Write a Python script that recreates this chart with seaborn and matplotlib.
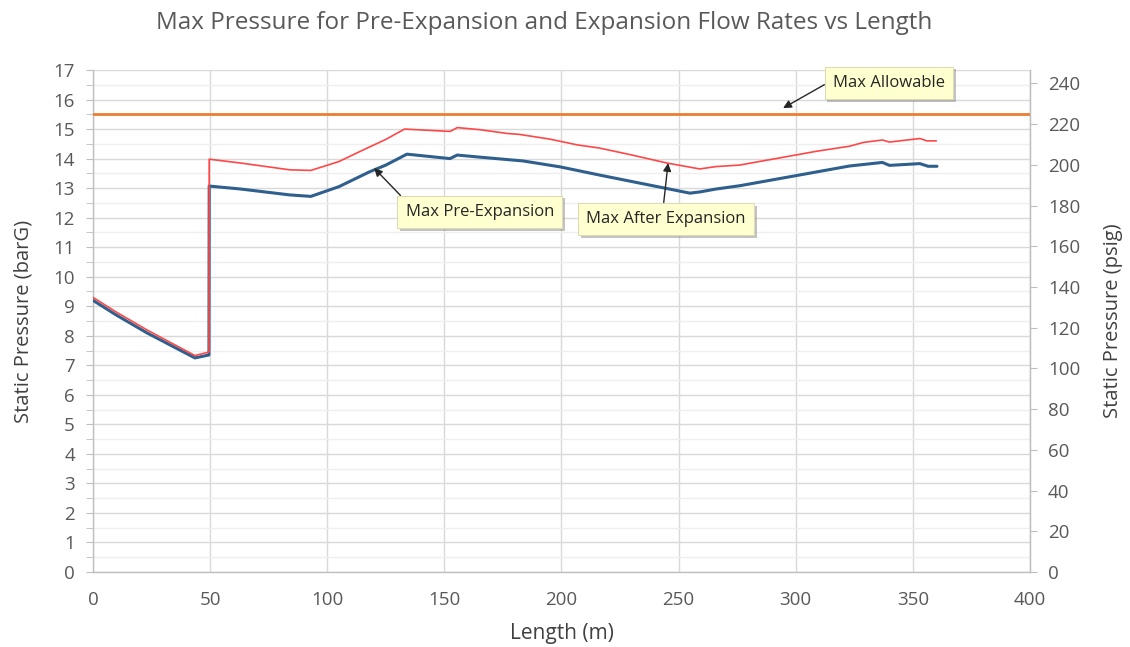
import numpy as np
import pandas as pd
import matplotlib
matplotlib.use("Agg")
import matplotlib.pyplot as plt
import matplotlib.patheffects as pe
from matplotlib.ticker import MultipleLocator
import seaborn as sns

# ---- data ----
after_x = [0, 10, 23, 43.5, 49.5, 49.6, 63, 84, 93, 105, 115, 125, 133, 150, 152.5,
           155.5, 165, 177, 182, 195, 207, 216, 229, 245, 259, 266, 276, 295, 309,
           323, 329, 337, 340, 353, 356, 360]
after_y = [9.3, 8.8, 8.2, 7.33, 7.45, 13.98, 13.85, 13.62, 13.6, 13.9, 14.28, 14.65,
           15.0, 14.93, 14.92, 15.05, 14.98, 14.85, 14.82, 14.66, 14.46, 14.36, 14.14,
           13.85, 13.65, 13.73, 13.78, 14.05, 14.25, 14.42, 14.55, 14.63, 14.56, 14.68,
           14.6, 14.6]

pre_x = [0, 10, 23, 43.5, 49.5, 49.6, 63, 84, 93, 105, 118, 125, 134, 152.4, 155.5,
         165, 183.6, 199.4, 216.4, 237.8, 254.8, 259, 266, 276, 295, 309, 323, 337,
         340, 353, 356.5, 360.3]
pre_y = [9.2, 8.7, 8.1, 7.25, 7.35, 13.07, 12.97, 12.77, 12.72, 13.05, 13.55, 13.78,
         14.15, 14.0, 14.12, 14.05, 13.92, 13.72, 13.44, 13.1, 12.83, 12.87, 12.97,
         13.08, 13.35, 13.55, 13.75, 13.87, 13.77, 13.83, 13.74, 13.74]

allow_x = [0, 400]
allow_y = [15.5, 15.5]

BAR_TO_PSI = 14.5038

df = pd.concat([
    pd.DataFrame({"Length": after_x, "P": after_y, "series": "Max After Expansion"}),
    pd.DataFrame({"Length": pre_x, "P": pre_y, "series": "Max Pre-Expansion"}),
    pd.DataFrame({"Length": allow_x, "P": allow_y, "series": "Max Allowable"}),
], ignore_index=True)

sns.set_style("white")
plt.rcParams['font.family'] = ['Open Sans', 'DejaVu Sans']
TXT = "#595959"

fig = plt.figure(figsize=(11.3, 6.47), dpi=100)
ax = fig.add_axes([0.0823, 0.1159, 0.8292, 0.7759])

palette = {"Max After Expansion": "#FF4747", "Max Pre-Expansion": "#2F5F8C",
           "Max Allowable": "#ED7D31"}
sizes = {"Max After Expansion": 1.2, "Max Pre-Expansion": 2.2, "Max Allowable": 2.0}
for name in ["Max Allowable", "Max Pre-Expansion", "Max After Expansion"]:
    sub = df[df.series == name]
    sns.lineplot(data=sub, x="Length", y="P", ax=ax, color=palette[name],
                 linewidth=sizes[name], sort=False, estimator=None, legend=False,
                 zorder=3)

ax.set_xlim(0, 400)
ax.set_ylim(0, 17)
ax.xaxis.set_major_locator(MultipleLocator(50))
ax.yaxis.set_major_locator(MultipleLocator(1))
ax.yaxis.set_minor_locator(MultipleLocator(0.5))
ax.grid(True, which='major', color='#D9D9D9', linewidth=1.0, zorder=0)
ax.grid(True, which='minor', axis='y', color='#EFEFEF', linewidth=1.0, zorder=0)
ax.set_axisbelow(True)
ax.spines['top'].set_visible(False)
for s in ['left', 'bottom', 'right']:
    ax.spines[s].set_color('#BFBFBF')
    ax.spines[s].set_linewidth(1.0)
ax.tick_params(axis='y', which='both', direction='out', length=5, color='#BFBFBF',
               labelsize=13.5, labelcolor=TXT, left=True, pad=8)
ax.tick_params(axis='x', which='both', length=0, labelsize=13.5, labelcolor=TXT, pad=14)
ax.set_xlabel("Length (m)", fontsize=15, color="#404040", labelpad=10)
ax.set_ylabel("Static Pressure (barG)", fontsize=14.5, color="#404040", labelpad=14)

ax2 = ax.twinx()
ax2.set_ylim(0, 17 * BAR_TO_PSI)
ax2.yaxis.set_major_locator(MultipleLocator(20))
ax2.grid(False)
for s in ['top', 'left', 'bottom']:
    ax2.spines[s].set_visible(False)
ax2.spines['right'].set_color('#BFBFBF')
ax2.tick_params(axis='y', direction='out', length=5, color='#BFBFBF', labelsize=13.5,
                labelcolor=TXT, pad=8)
ax2.set_ylabel("Static Pressure (psig)", fontsize=14.5, color="#404040", labelpad=16)

fig.suptitle("Max Pressure for Pre-Expansion and Expansion Flow Rates vs Length",
             x=0.482, y=0.983, fontsize=17.5, color=TXT)

box = dict(boxstyle='square,pad=0.5', fc='#FFFFD0', ec='#D8D8B0', lw=0.6)
def note(text, xy, xytext, relpos):
    a = ax.annotate(text, xy=xy, xytext=xytext, textcoords='data', ha='center',
                    va='center', fontsize=12, color='#262626', bbox=box, zorder=5,
                    arrowprops=dict(arrowstyle='-|>', color='#262626', lw=1.0,
                                    mutation_scale=12, relpos=relpos, shrinkA=0,
                                    shrinkB=0))
    a.get_bbox_patch().set_path_effects([
        pe.withSimplePatchShadow(offset=(2, -2), shadow_rgbFace='#888888', alpha=0.5),
        pe.Normal()])
    return a

note("Max Pre-Expansion", (120, 13.68), (165.2, 12.19), (0.02, 1.0))
note("Max After Expansion", (245.5, 13.85), (244.6, 11.95), (0.48, 1.0))
note("Max Allowable", (294.6, 15.71), (339.8, 16.56), (0.0, 0.7))

fig.savefig("out.png", dpi=100)
